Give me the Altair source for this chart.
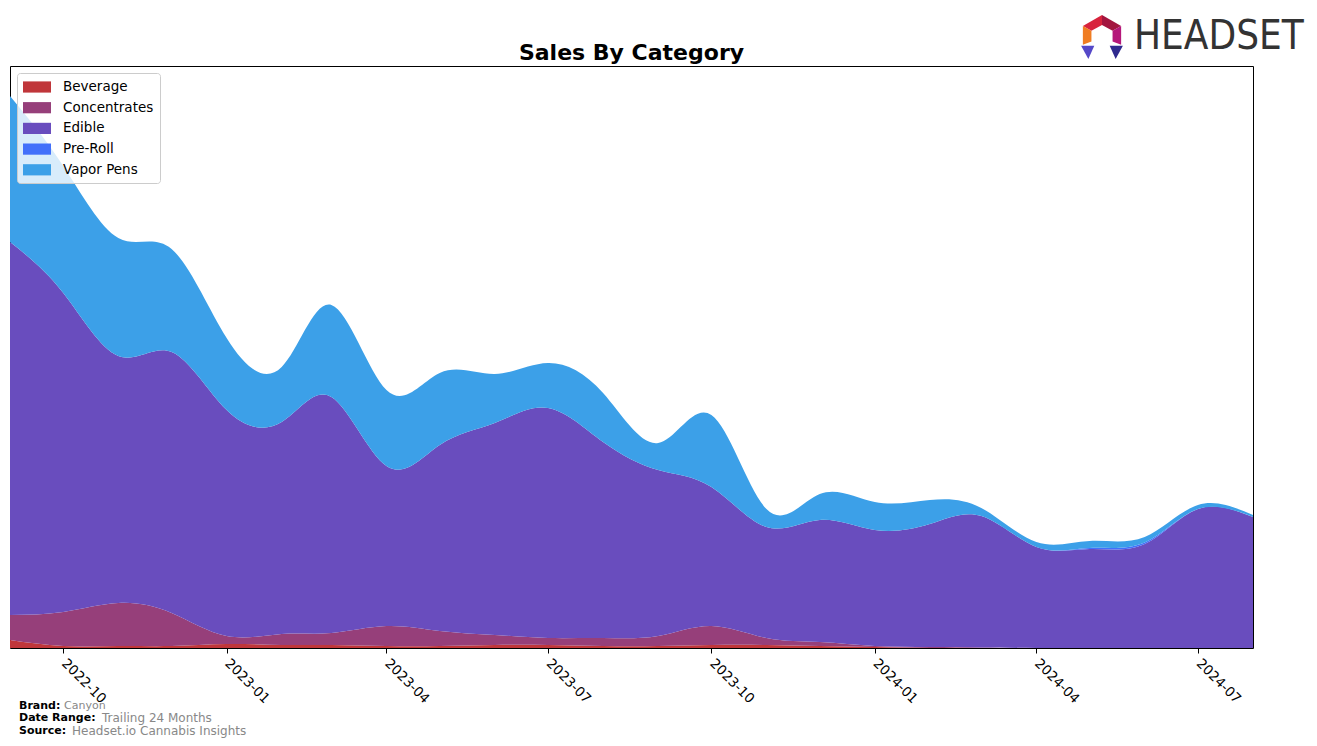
import altair as alt
import pandas as pd

months = ["2022-09-01", "2022-10-01", "2022-11-01", "2022-12-01",
          "2023-01-01", "2023-02-01", "2023-03-01", "2023-04-01",
          "2023-05-01", "2023-06-01", "2023-07-01", "2023-08-01",
          "2023-09-01", "2023-10-01", "2023-11-01", "2023-12-01",
          "2024-01-01", "2024-02-01", "2024-03-01", "2024-04-01",
          "2024-05-01", "2024-06-01", "2024-07-01", "2024-08-01"]
categories = ["Beverage", "Concentrates", "Edible", "Pre-Roll", "Vapor Pens"]
colors = ["#C0363A", "#963F7A", "#694DBE", "#4270FA", "#3CA0E8"]

beverage = [8, 2, 2, 2, 4, 3, 3, 2, 2, 3, 3, 2, 2, 3, 3, 2, 1, 0, 0, 0, 0, 0, 0, 0]
concentrates = [25, 34, 43, 33, 8, 11, 12, 20, 15, 10, 7, 8, 10, 19, 7, 4, 1, 1, 0.5, 0, 0, 0, 0, 0]
edible = [373, 319, 247, 261, 226, 212, 236, 160, 186, 212, 230, 196, 166, 139, 111, 122,
          116, 123, 131.5, 101, 99, 104, 139, 131]
pre_roll = [0, 0, 0, 0, 0, 0, 0, 0, 0, 0, 0, 0, 0, 0, 0, 0, 0, 0, 0, 0, 1, 1.5, 0, 0]
vapor_pens = [146, 127, 118, 103, 72, 55, 92, 76, 72, 49, 45, 49, 27, 72, 18, 26,
              28, 24, 8, 5, 7, 5.5, 4, 2]

tick_dates = ["2022-10", "2023-01", "2023-04", "2023-07", "2023-10", "2024-01", "2024-04", "2024-07"]

series = [beverage, concentrates, edible, pre_roll, vapor_pens]
rows = []
for ci, (cat, vals) in enumerate(zip(categories, series)):
    for m, v in zip(months, vals):
        rows.append({"date": m, "category": cat, "value": v, "ord": ci})
df = pd.DataFrame(rows)

W, H = 1243, 582
FONT = "DejaVu Sans"

tick_vals = [alt.DateTime(year=int(t[:4]), month=int(t[5:]), date=1, utc=True) for t in tick_dates]

area = alt.Chart(df).mark_area(interpolate="natural").encode(
    x=alt.X("date:T",
            scale=alt.Scale(type="utc", domain=[alt.DateTime(year=2022, month=9, date=1, utc=True),
                                                alt.DateTime(year=2024, month=8, date=1, utc=True)],
                            nice=False),
            axis=alt.Axis(values=tick_vals, labelExpr="utcFormat(datum.value, '%Y-%m')",
                          labelAngle=45, labelAlign="left", labelBaseline="top", labelFont=FONT,
                          labelFontSize=13.5, labelColor="black", tickColor="black",
                          tickSize=5, domain=False, grid=False, title=None, labelPadding=3,
                          labelOffset=5)),
    y=alt.Y("value:Q", stack="zero", scale=alt.Scale(domain=[0, 582], nice=False), axis=None),
    color=alt.Color("category:N", scale=alt.Scale(domain=categories, range=colors),
                    sort=categories,
                    legend=alt.Legend(title=None, orient="top-left", offset=7,
                                      symbolType="M-1,-0.7L2.5,-0.7L2.5,0.7L-1,0.7Z",
                                      symbolSize=256, symbolStrokeWidth=0, symbolOpacity=1,
                                      labelFont=FONT, labelFontSize=13.5, labelColor="black",
                                      rowPadding=5.7, padding=6, strokeColor="#cccccc",
                                      fillColor="rgba(255,255,255,0.8)", cornerRadius=3,
                                      labelOffset=24)),
    order=alt.Order("ord:Q", sort="ascending"),
)

title = alt.Chart(pd.DataFrame({"t": ["Sales By Category"]})).mark_text(
    font=FONT, fontSize=22, fontWeight="bold", color="black", baseline="middle", align="center"
).encode(text="t:N", x=alt.value(W / 2), y=alt.value(-13))

labels_df = pd.DataFrame({
    "label": ["Brand:", "Date Range:", "Source:"],
    "val": ["Canyon", "Trailing 24 Months", "Headset.io Cannabis Insights"],
})
footer_bold = []
footer_val = []
ys = [640, 652, 665]
xs_val = [54, 92, 62]
sizes = [11, 12, 12]
for i in range(3):
    sub = labels_df.iloc[[i]]
    footer_bold.append(alt.Chart(sub).mark_text(
        font=FONT, fontSize=11, fontWeight="bold", color="black", align="left", baseline="middle"
    ).encode(text="label:N", x=alt.value(9), y=alt.value(ys[i])))
    footer_val.append(alt.Chart(sub).mark_text(
        font=FONT, fontSize=sizes[i], color="#888888", align="left", baseline="middle"
    ).encode(text="val:N", x=alt.value(xs_val[i]), y=alt.value(ys[i])))

logo_text = alt.Chart(pd.DataFrame({"t": ["HEADSET"]})).mark_text(
    font="DejaVu Sans Condensed", fontSize=40, color="#333333", align="left", baseline="middle"
).encode(text="t:N", x=alt.value(1124), y=alt.value(-29))

icon_parts = pd.DataFrame({
    "name": ["tl", "tr", "r", "l", "bl", "br"],
    "path": [
        "M-0.87,-0.5L0,-1L0,-0.55L-0.48,-0.28Z",
        "M0,-1L0.87,-0.5L0.48,-0.28L0,-0.55Z",
        "M0.87,-0.5L0.87,0.35L0.48,0.2L0.48,-0.28Z",
        "M-0.87,-0.5L-0.48,-0.28L-0.48,0.2L-0.87,0.35Z",
        "M-0.95,0.4L-0.35,0.4L-0.62,1Z",
        "M0.35,0.4L0.95,0.4L0.62,1Z",
    ],
    "col": ["#D8233C", "#A3153F", "#B5177A", "#F07D22", "#5548C8", "#2F2A8E"],
})
icon_layers = []
for _, r in icon_parts.iterrows():
    icon_layers.append(alt.Chart(pd.DataFrame({"n": [r["name"]]})).mark_point(
        shape=r["path"], filled=True, color=r["col"], opacity=1, size=1936, strokeWidth=0
    ).encode(x=alt.value(1092), y=alt.value(-29), detail="n:N"))

chart = alt.layer(area, title, logo_text, *icon_layers, *footer_bold, *footer_val).properties(
    width=W, height=H,
    padding={"left": 2, "top": 58, "right": 56, "bottom": 90},
    autosize=alt.AutoSizeParams(type="none"),
).configure_view(stroke="black", strokeWidth=1)

chart.save("out.html", embed_options={"renderer": "svg", "actions": False})
